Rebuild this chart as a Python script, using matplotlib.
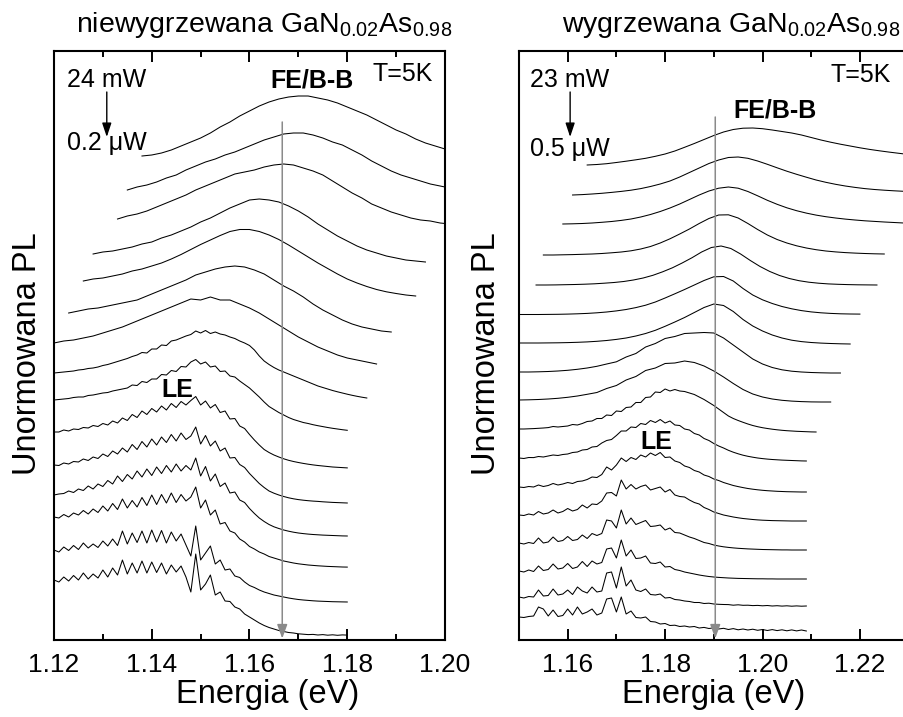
import numpy as np
import matplotlib
matplotlib.use("Agg")
import matplotlib.pyplot as plt

plt.rcParams['font.family'] = ['Liberation Sans', 'DejaVu Sans']
plt.rcParams['mathtext.fontset'] = 'custom'
plt.rcParams['mathtext.rm'] = 'Liberation Sans'
plt.rcParams['mathtext.it'] = 'Liberation Sans:italic'
plt.rcParams['mathtext.bf'] = 'Liberation Sans:bold'

# ---------------------------------------------------------------------------
# Normalised PL spectra, stacked with vertical offsets (highest power on top).
# Each spectrum: first energy (eV), energy step (eV) and intensity values.
# ---------------------------------------------------------------------------

# as-grown GaN0.02As0.98, 24 mW (top) ... 0.2 uW (bottom)
ug_e0 = [1.138, 1.135, 1.133, 1.128, 1.126, 1.123, 1.120, 1.120,
         1.120, 1.120, 1.120, 1.120, 1.120, 1.120, 1.120]
ug_step = [0.002, 0.002, 0.002, 0.002, 0.002, 0.002, 0.002, 0.001,
           0.001, 0.001, 0.001, 0.001, 0.001, 0.001, 0.001]

ug_01 = [48.4, 48.5, 48.7, 49.0, 49.4, 49.8, 50.2, 50.7, 51.3, 51.8, 52.4, 52.9,
         53.4, 53.8, 54.1, 54.3, 54.4, 54.4, 54.2, 54.0, 53.7, 53.3, 52.9, 52.5,
         52.0, 51.5, 51.0, 50.6, 50.1, 49.7, 49.4, 49.1]
ug_02 = [45.0, 45.3, 45.5, 45.8, 46.2, 46.5, 47.0, 47.4, 47.8, 48.1, 48.5, 48.8,
         49.2, 49.6, 50.0, 50.3, 50.6, 50.7, 50.7, 50.5, 50.2, 49.8, 49.5, 49.0,
         48.5, 47.9, 47.4, 46.9, 46.5, 46.2, 45.9, 45.6, 45.4, 45.2]
ug_03 = [42.1, 42.4, 42.6, 42.9, 43.3, 43.7, 44.1, 44.5, 45.0, 45.4, 45.8, 46.2,
         46.6, 46.8, 47.0, 47.3, 47.5, 47.6, 47.5, 47.2, 46.9, 46.5, 45.9, 45.3,
         44.7, 44.2, 43.6, 43.2, 42.8, 42.5, 42.2, 42.0, 41.9, 41.7, 41.6]
ug_04 = [38.6, 38.8, 38.9, 39.1, 39.3, 39.6, 39.8, 40.2, 40.5, 40.9, 41.3, 41.8,
         42.2, 42.7, 43.2, 43.6, 44.0, 44.1, 44.0, 43.8, 43.4, 42.9, 42.3, 41.6,
         41.0, 40.4, 39.9, 39.4, 39.0, 38.7, 38.4, 38.2, 38.0, 37.9, 37.8]
ug_05 = [35.9, 36.1, 36.2, 36.4, 36.6, 36.9, 37.1, 37.4, 37.7, 38.1, 38.55, 39.05,
         39.55, 40.0, 40.45, 40.85, 41.05, 41.05, 40.85, 40.5, 40.05, 39.5, 38.9,
         38.3, 37.7, 37.15, 36.6, 36.1, 35.7, 35.35, 35.05, 34.82, 34.65, 34.5, 34.4]
ug_06 = [32.7, 32.9, 33.1, 33.2, 33.4, 33.6, 33.8, 34.0, 34.4, 34.8, 35.2, 35.6,
         36.0, 36.5, 36.8, 37.1, 37.3, 37.4, 37.3, 37.0, 36.6, 36.0, 35.4, 34.9,
         34.3, 33.6, 33.0, 32.5, 32.0, 31.6, 31.3, 31.1, 30.9, 30.8]
ug_07 = [29.7, 29.9, 30.0, 30.2, 30.4, 30.7, 31.0, 31.3, 31.7, 32.1, 32.5, 32.9,
         33.3, 33.7, 34.1, 34.0, 34.3, 34.0, 34.0, 33.6, 33.2, 32.7, 32.1, 31.5,
         30.9, 30.3, 29.8, 29.3, 28.9, 28.5, 28.2, 28.0, 27.8, 27.6]
ug_08 = [26.7, 26.75, 26.8, 26.85, 26.9, 27.0, 27.05, 27.15, 27.2, 27.3,
         27.45, 27.55, 27.7, 27.85, 28.0, 28.15, 28.35, 28.5, 28.75, 28.7,
         29.1, 29.1, 29.5, 29.45, 29.9, 30.0, 30.2, 30.4, 30.55, 30.9,
         30.7, 30.95, 30.65, 30.8, 30.6, 30.5, 30.3, 30.15, 29.9, 29.7,
         29.45, 29.0, 28.4, 27.9, 27.55, 27.25, 27.0, 26.8, 26.6, 26.4,
         26.2, 26.0, 25.8, 25.6, 25.4, 25.25, 25.1, 24.95, 24.82, 24.7,
         24.58, 24.47, 24.37, 24.28, 24.2]
ug_09 = [24.0, 24.05, 24.1, 24.15, 24.25, 24.3, 24.3, 24.45, 24.5, 24.6,
         24.7, 24.75, 24.9, 25.0, 25.1, 25.2, 25.5, 25.45, 25.85, 25.75,
         26.1, 26.1, 26.55, 26.5, 26.95, 26.85, 27.35, 27.3, 27.8, 28.05,
         27.6, 27.8, 27.3, 27.4, 26.85, 26.9, 26.4, 26.3, 25.9, 25.55,
         25.2, 24.75, 24.3, 23.8, 23.35, 23.05, 22.75, 22.5, 22.25, 22.05,
         21.9, 21.75, 21.65, 21.53, 21.43, 21.34, 21.25, 21.17, 21.1, 21.03, 20.97]
ug_10 = [20.8, 20.8, 21.0, 20.9, 21.1, 21.05, 21.25, 21.2, 21.45, 21.35,
         21.65, 21.5, 21.9, 21.7, 22.2, 21.95, 22.55, 22.25, 22.9, 22.55,
         23.15, 22.8, 23.4, 23.0, 23.65, 23.25, 23.85, 23.5, 23.95, 24.35,
         23.5, 23.9, 23.2, 23.55, 22.75, 22.9, 22.1, 22.15, 21.4, 21.15,
         20.55, 20.0, 19.5, 19.05, 18.75, 18.5, 18.3, 18.12, 17.97, 17.85,
         17.75, 17.66, 17.58, 17.51, 17.45, 17.4, 17.35, 17.3, 17.27, 17.24, 17.21]
ug_11 = [17.5, 17.45, 17.7, 17.6, 17.85, 17.8, 18.1, 17.95, 18.3, 18.15,
         18.6, 18.35, 18.9, 18.6, 19.2, 18.8, 19.55, 19.05, 19.85, 19.3,
         20.1, 19.5, 20.3, 19.75, 20.55, 19.9, 20.7, 20.05, 20.4, 21.3,
         19.6, 20.45, 19.4, 19.9, 18.9, 19.2, 18.2, 18.25, 17.55, 17.25,
         16.65, 16.15, 15.65, 15.25, 14.9, 14.68, 14.5, 14.35, 14.22, 14.12,
         14.04, 13.98, 13.93, 13.89, 13.86, 13.82, 13.79, 13.76, 13.74, 13.72, 13.7]
ug_12 = [14.5, 14.6, 14.65, 14.9, 14.75, 15.1, 14.95, 15.4, 15.1, 15.6,
         15.35, 15.95, 15.6, 16.4, 15.85, 16.55, 16.1, 16.9, 16.3, 17.1,
         16.45, 17.3, 16.65, 17.45, 16.8, 17.6, 16.9, 17.45, 17.0, 18.2,
         16.4, 17.35, 15.9, 16.6, 15.35, 15.7, 14.7, 14.8, 14.0, 13.75,
         13.15, 12.65, 12.2, 11.85, 11.55, 11.32, 11.15, 11.0, 10.88, 10.78,
         10.7, 10.64, 10.59, 10.55, 10.52, 10.49, 10.47, 10.45, 10.43, 10.41, 10.4]
ug_13 = [12.3, 12.2, 12.55, 12.3, 12.7, 12.5, 12.95, 12.6, 13.1, 12.75,
         13.4, 12.9, 13.65, 13.05, 14.1, 13.2, 13.95, 13.3, 14.25, 13.45,
         14.5, 13.55, 14.55, 13.7, 14.7, 13.75, 14.55, 13.9, 14.3, 15.3,
         13.2, 14.0, 12.5, 13.0, 11.6, 11.75, 10.9, 10.7, 10.1, 9.8,
         9.35, 9.1, 8.8, 8.6, 8.35, 8.2, 8.05, 7.9, 7.8, 7.7,
         7.62, 7.56, 7.5, 7.46, 7.42, 7.39, 7.36, 7.34, 7.32, 7.3, 7.29]
ug_14 = [9.0, 8.8, 9.3, 8.95, 9.45, 9.05, 9.7, 9.2, 9.6, 9.25,
         9.9, 9.4, 10.1, 9.45, 10.9, 9.6, 10.7, 9.75, 10.9, 9.7,
         11.0, 9.8, 10.95, 9.7, 10.8, 9.9, 10.6, 9.5, 8.4, 11.4,
         8.0, 8.7, 9.4, 7.6, 8.0, 7.0, 7.1, 6.4, 6.25, 5.8,
         5.45, 5.25, 5.0, 4.8, 4.65, 4.5, 4.4, 4.3, 4.2, 4.12,
         4.05, 4.0, 3.96, 3.92, 3.89, 3.87, 3.85, 3.83, 3.82, 3.81, 3.8]
ug_15 = [6.0, 5.8, 6.3, 5.9, 6.45, 6.0, 6.7, 6.1, 6.6, 6.2,
         7.0, 6.3, 7.2, 6.5, 8.0, 6.6, 7.7, 6.7, 7.9, 6.7,
         7.8, 6.75, 7.7, 6.6, 7.5, 6.8, 7.4, 6.3, 4.8, 8.6,
         5.0, 5.6, 6.5, 4.5, 4.8, 3.9, 3.85, 3.3, 3.1, 2.6,
         2.3, 2.0, 1.7, 1.45, 1.25, 1.1, 0.95, 0.85, 0.75, 0.7,
         0.62, 0.58, 0.54, 0.56, 0.5, 0.54, 0.48, 0.52, 0.47, 0.51, 0.49]

# annealed GaN0.02As0.98, 23 mW (top) ... 0.5 uW (bottom)
an_e0 = [1.164, 1.161, 1.159, 1.155, 1.1535, 1.150, 1.150, 1.150, 1.150,
         1.150, 1.150, 1.150, 1.150, 1.150, 1.150, 1.150, 1.150]
an_step = [0.002, 0.002, 0.002, 0.002, 0.002, 0.002, 0.002, 0.002, 0.002,
           0.001, 0.001, 0.001, 0.001, 0.001, 0.001, 0.001, 0.001]

an_01 = [47.5, 47.55, 47.63, 47.75, 47.88, 48.02, 48.17, 48.37, 48.6, 48.9,
         49.27, 49.65, 50.05, 50.45, 50.8, 51.05, 51.18, 51.2, 51.13, 51.0,
         50.85, 50.7, 50.5, 50.25, 50.0, 49.78, 49.58, 49.4, 49.22, 49.06,
         48.92, 48.79, 48.67, 48.55]
an_02 = [44.5, 44.54, 44.6, 44.67, 44.76, 44.86, 44.98, 45.14, 45.35, 45.6,
         45.9, 46.3, 46.75, 47.2, 47.65, 48.0, 48.25, 48.3, 48.17, 47.9,
         47.57, 47.22, 46.88, 46.57, 46.28, 46.0, 45.77, 45.57, 45.4, 45.26,
         45.14, 45.05, 44.98, 44.92, 44.87, 44.83]
an_03 = [41.6, 41.62, 41.65, 41.7, 41.77, 41.85, 41.96, 42.1, 42.3, 42.55,
         42.85, 43.2, 43.6, 44.05, 44.5, 44.9, 45.18, 45.3, 45.18, 44.85,
         44.42, 43.97, 43.57, 43.22, 42.93, 42.69, 42.49, 42.33, 42.2, 42.09,
         42.0, 41.92, 41.86, 41.8, 41.75, 41.7, 41.66]
an_04 = [38.5, 38.5, 38.52, 38.54, 38.57, 38.6, 38.65, 38.72, 38.8, 38.92,
         39.1, 39.35, 39.7, 40.12, 40.6, 41.1, 41.65, 42.15, 42.5, 42.52,
         42.2, 41.65, 41.05, 40.5, 40.05, 39.7, 39.42, 39.2, 39.03, 38.9,
         38.81, 38.74, 38.69, 38.65, 38.62, 38.6]
an_05 = [35.5, 35.5, 35.51, 35.53, 35.55, 35.58, 35.62, 35.68, 35.75, 35.85,
         36.0, 36.2, 36.47, 36.82, 37.22, 37.7, 38.22, 38.8, 39.25, 39.4,
         39.15, 38.6, 37.95, 37.35, 36.85, 36.45, 36.15, 35.93, 35.78, 35.68,
         35.61, 35.57, 35.54, 35.52, 35.51, 35.5]
an_06 = [32.55, 32.55, 32.55, 32.56, 32.57, 32.59, 32.62, 32.66, 32.72, 32.8,
         32.91, 33.05, 33.24, 33.48, 33.8, 34.2, 34.62, 35.05, 35.5, 35.95,
         36.32, 36.35, 35.9, 35.15, 34.5, 34.02, 33.65, 33.35, 33.12, 32.94,
         32.81, 32.72, 32.66, 32.62, 32.6, 32.59]
an_07 = [29.7, 29.7, 29.7, 29.71, 29.72, 29.74, 29.77, 29.81, 29.87, 29.95,
         30.06, 30.2, 30.4, 30.65, 30.97, 31.37, 31.8, 32.25, 32.75, 33.25,
         33.6, 33.45, 32.85, 32.05, 31.4, 30.9, 30.5, 30.2, 29.98, 29.84,
         29.75, 29.69, 29.65, 29.62, 29.6]
an_08 = [26.8, 26.8, 26.82, 26.85, 26.9, 26.97, 27.07, 27.2, 27.37, 27.6,
         27.82, 28.3, 28.65, 29.3, 29.65, 30.15, 30.35, 30.65, 30.7, 30.75,
         30.7, 30.2, 29.5, 28.8, 28.1, 27.6, 27.25, 27.02, 26.88, 26.8,
         26.75, 26.72, 26.7, 26.7]
an_09 = [24.0, 24.02, 24.05, 24.1, 24.17, 24.27, 24.4, 24.57, 24.75, 25.15,
         25.45, 26.0, 26.35, 26.95, 27.2, 27.65, 27.7, 27.9, 27.75, 27.4,
         26.9, 26.3, 25.65, 25.05, 24.6, 24.3, 24.1, 23.97, 23.89, 23.84,
         23.81, 23.8, 23.8]
an_10 = [21.1, 21.1, 21.12, 21.14, 21.17, 21.2, 21.24, 21.35, 21.3, 21.35,
         21.4, 21.55, 21.5, 21.65, 21.85, 21.9, 22.15, 22.15, 22.5, 22.45,
         22.9, 22.85, 23.25, 23.3, 23.75, 23.75, 24.25, 24.3, 24.8, 24.75,
         25.1, 24.9, 25.05, 24.9, 24.85, 24.7, 24.55, 24.3, 24.05, 23.75,
         23.45, 23.1, 22.75, 22.4, 22.15, 21.95, 21.77, 21.6, 21.45, 21.33,
         21.23, 21.15, 21.08, 21.02, 20.97, 20.93, 20.9, 20.87, 20.85, 20.83,
         20.81, 20.8]
an_11 = [18.2, 18.15, 18.25, 18.24, 18.35, 18.3, 18.4, 18.5, 18.45, 18.55,
         18.6, 18.75, 18.8, 19.0, 19.05, 19.3, 19.35, 19.7, 19.95, 20.05,
         20.45, 20.9, 20.9, 21.3, 21.25, 21.65, 21.55, 21.95, 21.75, 22.05,
         21.7, 21.9, 21.5, 21.45, 21.1, 21.0, 20.65, 20.5, 20.15, 19.95,
         19.65, 19.4, 19.2, 18.97, 18.78, 18.62, 18.48, 18.37, 18.28, 18.2,
         18.14, 18.09, 18.05, 18.02, 17.99, 17.97, 17.95, 17.93, 17.91, 17.9]
an_12 = [15.3, 15.25, 15.35, 15.3, 15.5, 15.35, 15.45, 15.65, 15.5, 15.6,
         15.75, 15.65, 15.85, 15.9, 16.05, 16.3, 16.25, 16.55, 17.3, 17.0,
         17.5, 18.2, 17.85, 18.25, 18.05, 18.5, 18.3, 18.7, 18.45, 18.75,
         18.25, 18.3, 17.9, 17.75, 17.4, 17.25, 16.95, 16.8, 16.5, 16.35,
         16.1, 15.95, 15.75, 15.6, 15.45, 15.34, 15.24, 15.15, 15.08, 15.02,
         14.97, 14.93, 14.9, 14.87, 14.85, 14.83, 14.82, 14.81, 14.8, 14.8]
an_13 = [12.5, 12.45, 12.6, 12.5, 12.85, 12.6, 12.7, 13.0, 12.7, 12.85,
         13.15, 12.9, 13.05, 13.5, 13.2, 13.6, 13.55, 13.9, 14.7, 14.75,
         14.4, 16.0, 15.1, 15.55, 15.1, 15.35, 15.5, 15.0, 15.15, 15.3,
         14.8, 15.05, 14.5, 14.35, 14.3, 14.0, 13.75, 13.6, 13.25, 13.05,
         12.8, 12.65, 12.5, 12.4, 12.3, 12.22, 12.15, 12.1, 12.05, 12.01,
         11.98, 11.96, 11.94, 11.93, 11.92, 11.91, 11.9, 11.9, 11.9, 11.9]
an_14 = [9.7, 9.6, 9.75, 9.65, 10.2, 9.7, 9.8, 10.3, 9.85, 9.95,
         10.35, 9.95, 10.05, 10.5, 10.15, 10.65, 10.45, 10.65, 12.0, 11.9,
         11.2, 13.0, 11.6, 12.2, 11.55, 11.75, 11.95, 11.35, 11.4, 11.5,
         11.0, 11.2, 10.75, 10.7, 10.5, 10.3, 10.15, 9.95, 9.75, 9.65,
         9.5, 9.4, 9.32, 9.26, 9.21, 9.17, 9.14, 9.11, 9.09, 9.07,
         9.05, 9.04, 9.03, 9.02, 9.01, 9.01, 9.0, 9.0, 9.0, 9.0]
an_15 = [6.9, 6.8, 7.0, 6.85, 7.4, 6.95, 7.05, 7.6, 7.1, 7.2,
         7.65, 7.15, 7.3, 7.85, 7.35, 7.9, 7.6, 7.75, 9.1, 9.2,
         8.2, 10.0, 8.4, 9.0, 8.15, 8.2, 8.4, 7.7, 7.65, 7.8,
         7.3, 7.35, 7.05, 6.95, 6.8, 6.7, 6.6, 6.5, 6.42, 6.35,
         6.3, 6.26, 6.23, 6.2, 6.18, 6.16, 6.15, 6.14, 6.13, 6.12,
         6.12, 6.11, 6.11, 6.1, 6.1, 6.1, 6.1, 6.1, 6.1, 6.1]
an_16 = [4.3, 4.2, 4.35, 4.3, 5.0, 4.4, 4.45, 5.1, 4.5, 4.6,
         5.0, 4.55, 5.3, 4.9, 4.7, 5.3, 4.8, 4.9, 6.7, 6.8,
         5.2, 7.3, 5.4, 6.0, 5.0, 4.85, 5.1, 4.55, 4.5, 4.6,
         4.2, 4.25, 4.05, 4.0, 3.9, 3.85, 3.75, 3.75, 3.65, 3.68,
         3.6, 3.57, 3.55, 3.54, 3.48, 3.52, 3.47, 3.48, 3.44, 3.46,
         3.42, 3.45, 3.4, 3.43, 3.39, 3.42, 3.38, 3.41, 3.38, 3.4]
an_17 = [2.3, 2.25, 2.35, 2.4, 3.3, 3.1, 2.4, 3.0, 2.35, 2.45,
         3.1, 2.5, 3.3, 2.6, 2.8, 3.1, 2.5, 2.7, 4.1, 4.2,
         2.8, 4.3, 2.6, 2.9, 2.25, 2.2, 2.3, 1.85, 1.8, 1.6,
         1.65, 1.45, 1.48, 1.35, 1.4, 1.3, 1.35, 1.2, 1.26, 1.15,
         1.22, 1.1, 1.17, 1.05, 1.14, 1.02, 1.1, 1.0, 1.08, 0.97,
         1.05, 0.95, 1.04, 0.94, 1.02, 0.92, 1.01, 0.91, 1.0, 0.9]

ug_spectra = [ug_01, ug_02, ug_03, ug_04, ug_05, ug_06, ug_07, ug_08,
              ug_09, ug_10, ug_11, ug_12, ug_13, ug_14, ug_15]
an_spectra = [an_01, an_02, an_03, an_04, an_05, an_06, an_07, an_08, an_09,
              an_10, an_11, an_12, an_13, an_14, an_15, an_16, an_17]

# free exciton / band-to-band position (eV)
fe_left = 1.1667
fe_right = 1.1903

left_ticks = [1.12, 1.14, 1.16, 1.18, 1.20]
right_ticks = [1.16, 1.18, 1.20, 1.22]
tick_labels_left = ['1.12', '1.14', '1.16', '1.18', '1.20']
tick_labels_right = ['1.16', '1.18', '1.20', '1.22']

# ---------------------------------------------------------------------------
W, H = 904, 717
fig = plt.figure(figsize=(W / 100, H / 100), dpi=100)

y_bottom = 1 - 640 / H
y_height = (640 - 51) / H
ax1 = fig.add_axes([54 / W, y_bottom, (445 - 54) / W, y_height])
ax2 = fig.add_axes([519 / W, y_bottom, (908.6 - 519) / W, y_height])

YMAX = 58.9


def draw_panel(ax, e0s, steps, spectra, xlim, ticks, labels):
    for e0, st, vals in zip(e0s, steps, spectra):
        e = e0 + st * np.arange(len(vals))
        ax.plot(e, vals, color='black', lw=0.75, solid_joinstyle='round')
    ax.set_xlim(*xlim)
    ax.set_ylim(0, YMAX)
    ax.set_xticks(ticks)
    ax.set_xticklabels(labels)
    ax.set_xticks(np.arange(xlim[0], xlim[1] + 1e-9, 0.01), minor=True)
    ax.set_yticks([])
    ax.tick_params(axis='x', which='both', direction='in', top=True,
                   bottom=True, width=1.4, labelsize=19, pad=9)
    ax.tick_params(axis='x', which='major', length=8)
    ax.tick_params(axis='x', which='minor', length=4)
    for sp in ax.spines.values():
        sp.set_linewidth(1.5)
    ax.set_xlabel('Energia (eV)', fontsize=23.5)


draw_panel(ax1, ug_e0, ug_step, ug_spectra, (1.12, 1.20), left_ticks, tick_labels_left)
draw_panel(ax2, an_e0, an_step, an_spectra, (1.15, 1.23), right_ticks, tick_labels_right)
ax1.xaxis.set_label_coords((268 - 54) / 391, -0.066)
ax2.xaxis.set_label_coords(0.5, -0.066)
ax1.set_ylabel('Unormowana PL', fontsize=23.5)
ax2.set_ylabel('Unormowana PL', fontsize=23.5)
ax1.yaxis.set_label_coords(-11 / 391, 0.4856)
ax2.yaxis.set_label_coords(-17 / 389.6, 0.4856)

gray = '#8a8a8a'
for ax, fe, top in ((ax1, fe_left, 51.8), (ax2, fe_right, 52.3)):
    ax.annotate('', xy=(fe, 0.15), xytext=(fe, top),
                arrowprops=dict(arrowstyle='-|>,head_length=0.6,head_width=0.22',
                                color=gray, lw=1.1, mutation_scale=14,
                                shrinkA=0, shrinkB=0))

# power arrows
for ax, ex in ((ax1, 1.1308), (ax2, 1.1605)):
    ax.annotate('', xy=(ex, 50.3), xytext=(ex, 54.8),
                arrowprops=dict(arrowstyle='-|>,head_length=0.6,head_width=0.2',
                                color='black', lw=1.0, mutation_scale=14,
                                shrinkA=0, shrinkB=0))

fs = 18
ax1.text(1.1227, 56.0, '24 mW', fontsize=fs, ha='left', va='center')
ax1.text(1.1227, 49.7, '0.2 \u03bcW', fontsize=fs, ha='left', va='center')
ax1.text(1.1642, 56.0, 'FE/B-B', fontsize=fs, fontweight='bold', ha='left', va='center')
ax1.text(1.1851, 56.6, 'T=5K', fontsize=fs, ha='left', va='center')
ax1.text(1.1419, 25.0, 'LE', fontsize=fs, fontweight='bold', ha='left', va='center')

ax2.text(1.1523, 56.0, '23 mW', fontsize=fs, ha='left', va='center')
ax2.text(1.1523, 49.1, '0.5 \u03bcW', fontsize=fs, ha='left', va='center')
ax2.text(1.1940, 53.0, 'FE/B-B', fontsize=fs, fontweight='bold', ha='left', va='center')
ax2.text(1.2139, 56.5, 'T=5K', fontsize=fs, ha='left', va='center')
ax2.text(1.1749, 19.8, 'LE', fontsize=fs, fontweight='bold', ha='left', va='center')

fig.text(264.5 / W, 1 - 32 / H, r'niewygrzewana GaN$_{0.02}$As$_{0.98}$',
         fontsize=20.5, ha='center', va='baseline')
fig.text(731.5 / W, 1 - 32 / H, r'wygrzewana GaN$_{0.02}$As$_{0.98}$',
         fontsize=20.5, ha='center', va='baseline')

fig.savefig('out.png', dpi=100)
